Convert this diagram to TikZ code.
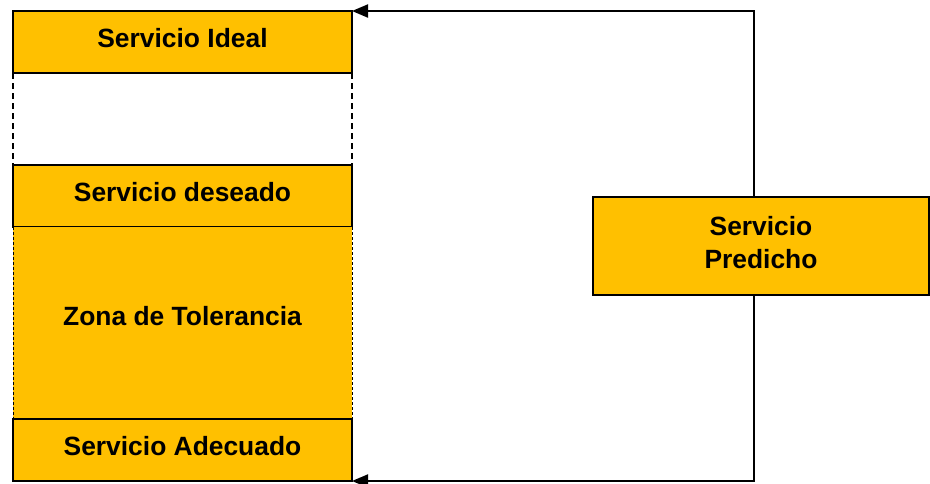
\documentclass[tikz,border=0pt]{standalone}
\usepackage{fontspec}
\setsansfont{Liberation Sans}
\definecolor{servamber}{RGB}{255,192,0}
\usetikzlibrary{positioning, arrows.meta}
\tikzset{
x=1pt, y=-1pt, % one unit is one pixel of the layout
every node/.style={outer sep=0pt, inner sep=0pt, text depth=8pt, font=\sffamily\bfseries\fontsize{26.4}{33}\selectfont},
band/.style={draw=black, line width=2pt, fill=servamber, minimum width=339pt, minimum height=62pt}, % the yellow bars of the column
zone/.style={fill=servamber, minimum width=339pt, minimum height=192pt, text depth=14pt},
gapline/.style={dashed, line width=1.3pt, dash pattern=on 6pt off 4pt},
link/.style={line width=2pt, -{Triangle[length=16pt,width=13pt]}},
}

\begin{document}
\begin{tikzpicture}
      \useasboundingbox (0,0) rectangle (930,483);

      \node[band] (ideal) at (182.5,42) {Servicio Ideal};
      \node[band, below=92pt of ideal] (deseado) {Servicio deseado};
      \node[zone, below=0pt of deseado] (zona) {Zona de Tolerancia};
      \node[band, below=0pt of zona] (adecuado) {Servicio Adecuado};
      \node[band, minimum width=336pt, minimum height=98pt, align=center] (predicho) at (761,246) {Servicio\\Predicho};

      % dashed sides
      \draw[gapline] (ideal.south west) -- (deseado.north west)
      (ideal.south east) -- (deseado.north east);
      \draw[gapline, dash pattern=on 3pt off 2pt, line width=1pt] (zona.north west) -- (zona.south west)
      (zona.north east) -- (zona.south east);

      % feedback lines
      \coordinate (ctop) at (754,11);
      \coordinate (cbot) at (754,481);
      \draw[link] (predicho.north -| ctop) -- (ctop) -- (ideal.north east);
      \draw[link] (predicho.south -| cbot) -- (cbot) -- (adecuado.south east);
    \end{tikzpicture}
\end{document}
